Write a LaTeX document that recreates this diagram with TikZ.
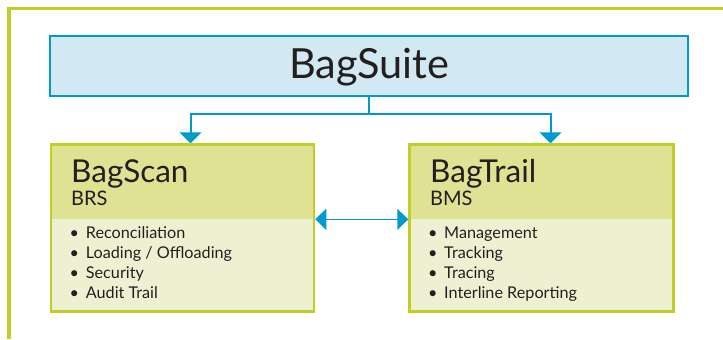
\documentclass[tikz,border=0pt]{standalone}
\usepackage{fontspec}
\setmainfont{Lato}
\usetikzlibrary{arrows.meta}
\definecolor{lime}{RGB}{194,206,40}
\definecolor{hdrc}{RGB}{222,226,146}
\definecolor{bodyc}{RGB}{238,241,209}
\definecolor{suitec}{RGB}{210,233,243}
\definecolor{bluec}{RGB}{0,155,204}
\definecolor{txtc}{RGB}{35,31,32}
\begin{document}
\begin{tikzpicture}[x=1bp,y=-1bp,
  gbox/.style={draw=lime, line width=2.5bp, fill=bodyc, minimum width=263bp,
    minimum height=167bp, inner sep=0pt,
    path picture={\fill[hdrc] (path picture bounding box.north west) rectangle ([yshift=-74bp]path picture bounding box.north east);}},
  sbox/.style={draw=bluec, line width=2bp, fill=suitec, minimum width=637.5bp,
    minimum height=60bp, inner sep=0pt, text height=24bp, text depth=0bp,
    text=txtc, font=\fontsize{41.5bp}{46bp}\selectfont},
  ttl/.style={anchor=base west, inner sep=0pt, text=txtc, font=\fontsize{31.5bp}{36bp}\selectfont},
  abbr/.style={anchor=base west, inner sep=0pt, text=txtc, font=\fontsize{20bp}{24bp}\selectfont},
  itm/.style={anchor=base west, inner sep=0pt, text=txtc, font=\fontsize{16.2bp}{20bp}\selectfont},
  conn/.style={draw=bluec, line width=2bp},
  tip/.style={-{Triangle[width=22bp,length=11bp]}},
]
\useasboundingbox (0,0) rectangle (723,339);
% outer frame
\draw[lime, line width=4bp] (8.5,339) -- (8.5,7);
\draw[lime, line width=3bp] (6.5,8.8) -- (723,8.8);

\node[sbox] (suite) at (369.25,66) {BagSuite};
\node[gbox] (scan) at (182.5,228) {};
\node[gbox, minimum width=264bp] (trail) at (541.5,228) {};

% connectors
\coordinate (j) at (369.25,113.5);
\draw[conn] (suite.south) -- (j);
\draw[conn, tip] (j) -| ([xshift=8bp]scan.north);
\draw[conn, tip] (j) -| ([xshift=9bp]trail.north);
\draw[draw=bluec, line width=1.6bp, {Triangle[width=21bp,length=11bp]}-{Triangle[width=21bp,length=11bp]}]
  ([yshift=8.7bp]scan.east) -- ([yshift=8.7bp]trail.west);

% BagScan texts
\node[ttl] (scant) at (71,182.7) {BagScan};
\node[abbr] (scana) at (71,205) {BRS};
\node[itm] (s1) at (69.5,238.3) {\makebox[16.2bp][l]{\textbullet}Reconciliation};
\node[itm] (s2) at (69.5,258.3) {\makebox[16.2bp][l]{\textbullet}Loading / Offloading};
\node[itm] (s3) at (69.5,278.3) {\makebox[16.2bp][l]{\textbullet}Security};
\node[itm] (s4) at (69.5,298.3) {\makebox[16.2bp][l]{\textbullet}Audit Trail};

% BagTrail texts
\node[ttl] (trailt) at (430,182.7) {BagTrail};
\node[abbr] (traila) at (430,205) {BMS};
\node[itm] (t1) at (428,238.3) {\makebox[16bp][l]{\textbullet}Management};
\node[itm] (t2) at (428,258.3) {\makebox[16bp][l]{\textbullet}Tracking};
\node[itm] (t3) at (428,278.3) {\makebox[16bp][l]{\textbullet}Tracing};
\node[itm] (t4) at (428,298.3) {\makebox[16bp][l]{\textbullet}Interline Reporting};
\end{tikzpicture}
\end{document}
